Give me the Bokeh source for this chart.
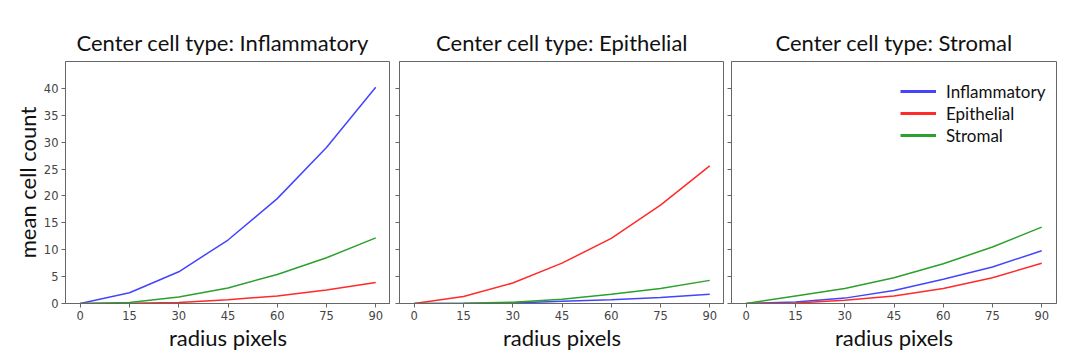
from bokeh.plotting import figure
from bokeh.layouts import row
from bokeh.models import Range1d, FixedTicker, Legend, LegendItem
from bokeh.embed import file_html
from bokeh.resources import INLINE

radius = [0, 15, 30, 45, 60, 75, 90]
series_names = ["Inflammatory", "Epithelial", "Stromal"]
series_colors = ["#4444ff", "#ff2a2a", "#2ca02c"]

# center: Inflammatory
inf_inflammatory = [0, 2.0, 5.9, 11.8, 19.5, 29.0, 40.2]
inf_epithelial = [0, 0.05, 0.2, 0.7, 1.4, 2.5, 3.9]
inf_stromal = [0, 0.2, 1.2, 2.9, 5.4, 8.5, 12.2]
# center: Epithelial
epi_inflammatory = [0, 0.0, 0.1, 0.4, 0.7, 1.1, 1.7]
epi_epithelial = [0, 1.3, 3.8, 7.5, 12.1, 18.3, 25.6]
epi_stromal = [0, 0.05, 0.25, 0.8, 1.7, 2.8, 4.3]
# center: Stromal
str_inflammatory = [0, 0.3, 1.0, 2.4, 4.5, 6.8, 9.8]
str_epithelial = [0, 0.1, 0.6, 1.4, 2.8, 4.8, 7.5]
str_stromal = [0, 1.4, 2.8, 4.8, 7.4, 10.5, 14.2]

panels = [
    ("Center cell type: Inflammatory", [inf_inflammatory, inf_epithelial, inf_stromal]),
    ("Center cell type: Epithelial", [epi_inflammatory, epi_epithelial, epi_stromal]),
    ("Center cell type: Stromal", [str_inflammatory, str_epithelial, str_stromal]),
]
y_ticks = [0, 5, 10, 15, 20, 25, 30, 35, 40]

FONT = "Lato"
figs = []
for i, (title, data) in enumerate(panels):
    p = figure(frame_width=325, frame_height=242, output_backend="svg",
               toolbar_location=None, title=title,
               x_range=Range1d(-4.5, 94.5), y_range=Range1d(0, 45))
    p.min_border_top = 61
    p.min_border_bottom = 50
    p.min_border_left = 65 if i == 0 else (9 if i == 1 else 7)
    p.min_border_right = 14 if i == 2 else 0
    p.title.text_font = FONT
    p.title.text_font_size = "22px"
    p.title.text_font_style = "normal"
    p.title.text_color = "#111111"
    p.title.standoff = 12
    if i == 0:
        p.title.align = "left"
        p.title.offset = 11
    else:
        p.title.align = "center"
    p.grid.visible = False
    p.outline_line_color = "#666666"
    p.outline_line_width = 1
    p.background_fill_color = "white"
    p.border_fill_color = "white"
    for ax in (p.xaxis[0], p.yaxis[0]):
        ax.axis_line_color = "#666666"
        ax.major_tick_line_color = "#666666"
        ax.minor_tick_line_color = None
        ax.major_tick_in = 0
        ax.major_tick_out = 4
        ax.major_label_standoff = 3
        ax.major_label_text_font = "DejaVu Sans"
        ax.major_label_text_font_size = "11.5px"
        ax.major_label_text_color = "#444444"
        ax.axis_label_text_font = FONT
        ax.axis_label_text_font_size = "22px"
        ax.axis_label_text_font_style = "normal"
        ax.axis_label_text_color = "#111111"
    p.xaxis.ticker = FixedTicker(ticks=radius)
    p.yaxis.ticker = FixedTicker(ticks=y_ticks)
    p.xaxis.axis_label = "radius pixels"
    p.xaxis.axis_label_standoff = 1
    if i == 0:
        p.yaxis.axis_label = "mean cell count"
        p.yaxis.axis_label_standoff = 0
    else:
        p.yaxis.major_label_overrides = {t: "" for t in y_ticks}
    for vals, color in zip(data, series_colors):
        p.line(radius, vals, line_color=color, line_width=1.5)
    if i == 2:
        # legend entries drawn with thicker sample lines (dummy renderers, no visible data)
        blank = [float("nan")] * len(radius)
        leg_rs = [p.line(radius, blank, line_color=c, line_width=3) for c in series_colors]
        items = [LegendItem(label=n, renderers=[r]) for n, r in zip(series_names, leg_rs)]
        leg = Legend(items=items, location=(169, 157))
        leg.border_line_color = None
        leg.background_fill_alpha = 0
        leg.label_text_font = FONT
        leg.label_text_font_size = "17px"
        leg.label_text_color = "#111111"
        leg.glyph_width = 36
        leg.glyph_height = 22
        leg.label_height = 22
        leg.spacing = 0
        leg.padding = 4
        leg.margin = 0
        leg.label_standoff = 10
        p.add_layout(leg)
    figs.append(p)

layout = row(*figs, spacing=0)
open("out.html", "w").write(file_html(layout, INLINE))
